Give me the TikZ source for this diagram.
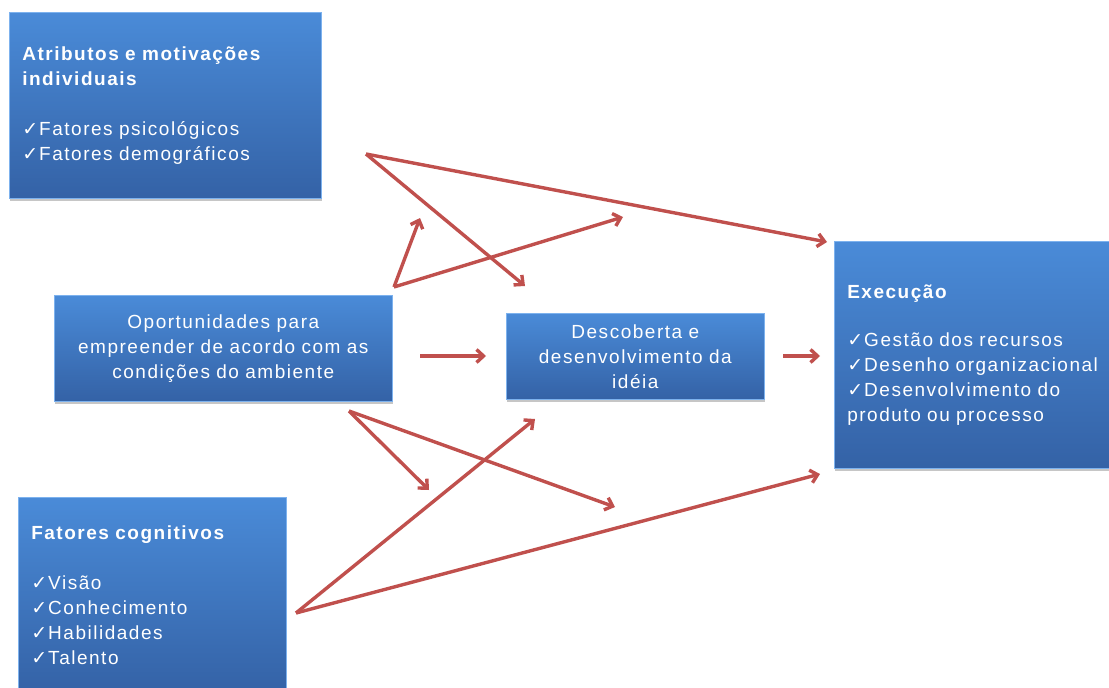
\documentclass[tikz,border=0pt]{standalone}
\usepackage{fontspec}
\setmainfont{Liberation Sans}
\newfontfamily\chkfont{DejaVu Sans}
\usetikzlibrary{arrows.meta,shadows}
\definecolor{boxtop}{HTML}{4A8BD8}
\definecolor{boxbot}{HTML}{3462A6}
\definecolor{boxline}{HTML}{7DB2EE}
\definecolor{arr}{HTML}{C0504D}
\newcommand{\ck}{{\chkfont\fontsize{19}{25}\selectfont ✓}\hspace{1pt}}
\begin{document}
\begin{tikzpicture}[x=1pt,y=-1pt,
  box/.style={draw=boxline, line width=0.6pt, top color=boxtop, bottom color=boxbot,
    drop shadow={opacity=0.45, shadow xshift=1pt, shadow yshift=-2.5pt},
    text=white, inner xsep=13pt, inner ysep=0pt, anchor=north west,
    font=\fontsize{19}{25}\selectfont\addfontfeature{LetterSpace=8}},
  conn/.style={draw=arr, line width=3.4pt, -{Straight Barb[length=7pt,width=13pt]}}]
\useasboundingbox (0,0) rectangle (1109,688);
\clip (0,0) rectangle (1109,688);
% boxes
\node[box, minimum width=312pt, minimum height=186pt, text width=286pt, align=left] (A) at (9,12)
  {\textbf{Atributos e motivações}\\\textbf{individuais}\\[25pt]
   \ck Fatores psicológicos\\\ck Fatores demográficos};
\node[box, minimum width=338pt, minimum height=106pt, text width=312pt, align=center] (O) at (54,295)
  {Oportunidades para\\empreender de acordo com as\\condições do ambiente};
\node[box, minimum width=258pt, minimum height=86pt, text width=232pt, align=center] (D) at (506,313)
  {Descoberta e\\desenvolvimento da\\idéia};
\node[box, minimum width=300pt, minimum height=227pt, text width=274pt, align=left] (E) at (834,241)
  {\textbf{Execução}\\[23pt]
   \ck Gestão dos recursos\\\ck Desenho organizacional\\\ck Desenvolvimento do\\produto ou processo};
\node[box, minimum width=268pt, minimum height=196pt, text width=242pt, align=left] (F) at (18,497)
  {\textbf{Fatores cognitivos}\\[25pt]
   \ck Visão\\\ck Conhecimento\\\ck Habilidades\\\ck Talento};
% connector end points
\coordinate (p1) at (366,154);
\coordinate (p1a) at (827,242);
\coordinate (p1b) at (525,286);
\coordinate (p2) at (394,287);
\coordinate (p2a) at (420,218);
\coordinate (p2b) at (623,217);
\coordinate (h1s) at (420,356);
\coordinate (h1e) at (486,356);
\coordinate (h2s) at (783,356);
\coordinate (h2e) at (820,356);
\coordinate (p3) at (349,411);
\coordinate (p3a) at (429,490);
\coordinate (p3b) at (615,507);
\coordinate (p4) at (296,613);
\coordinate (p4a) at (535,419);
\coordinate (p4b) at (820,474);
% connectors
\draw[conn] (p1) -- (p1a);
\draw[conn] (p1) -- (p1b);
\draw[conn] (p2) -- (p2a);
\draw[conn] (p2) -- (p2b);
\draw[conn] (h1s) -- (h1e);
\draw[conn] (h2s) -- (h2e);
\draw[conn] (p3) -- (p3a);
\draw[conn] (p3) -- (p3b);
\draw[conn] (p4) -- (p4a);
\draw[conn] (p4) -- (p4b);
\end{tikzpicture}
\end{document}
